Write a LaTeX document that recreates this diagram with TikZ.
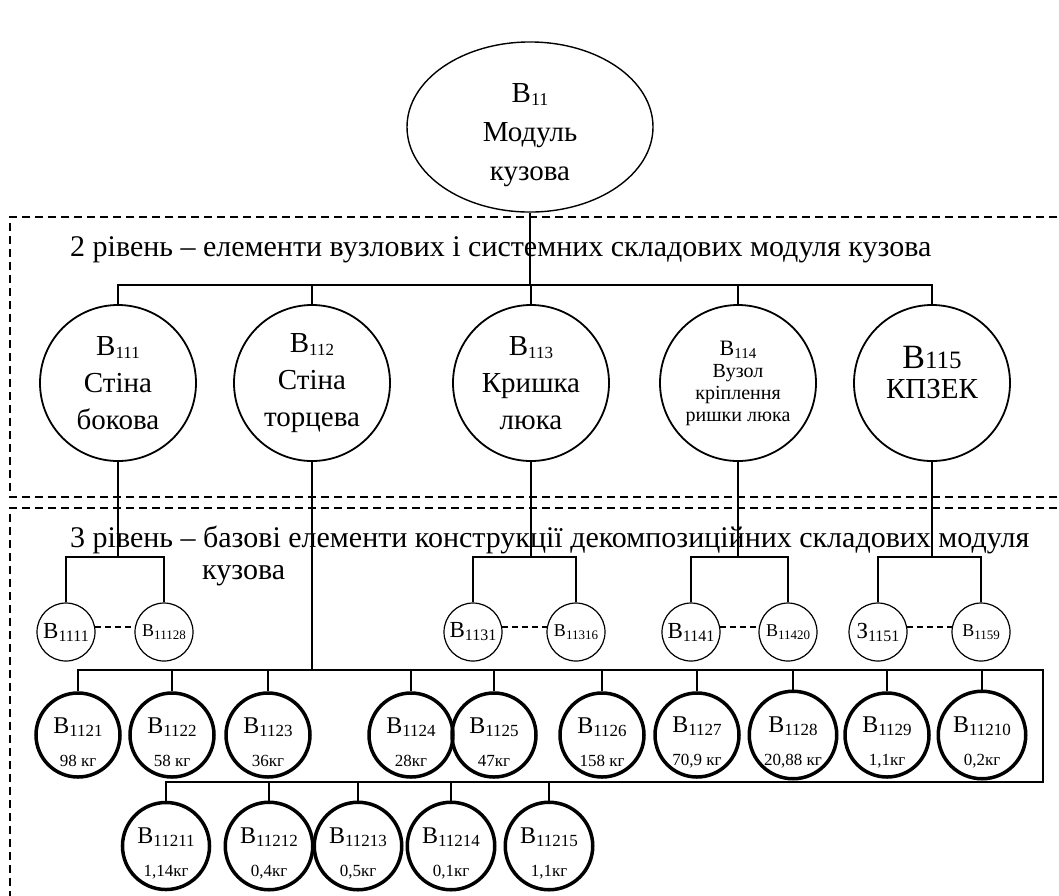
\documentclass[tikz,border=0pt]{standalone}
\usepackage{fontspec}
\setmainfont{Liberation Serif}
\usetikzlibrary{shapes.geometric}
\newcommand{\ind}[2]{\raisebox{-3pt}{\fontsize{#1}{#1}\selectfont #2}}

\begin{document}
\begin{tikzpicture}[x=1pt, y=-1pt,
    lvl/.style={draw, circle, line width=1.8pt, minimum size=156pt, inner sep=0pt, align=center, font=\fontsize{29}{37}\selectfont},
    sm/.style={draw, circle, line width=1.2pt, minimum size=58pt, inner sep=0pt},
    mass/.style={draw, circle, line width=3.5pt, minimum size=84pt, inner sep=0pt, align=center, font=\fontsize{24}{31}\selectfont},
    conn/.style={line width=1.5pt},
    levelbox/.style={line width=1.6pt, dash pattern=on 8pt off 5pt},
    omitted/.style={line width=1.5pt, dash pattern=on 6pt off 4pt},
    title/.style={anchor=base west, inner sep=0pt, font=\fontsize{30}{30}\selectfont}]
    \clip (0,0) rectangle (1059,895);
    \draw[levelbox] (1070,217) -- (10,217) -- (10,497) -- (1070,497);
    \draw[levelbox] (1070,508) -- (10,508) -- (10,910);

    \node[title] (t2) at (70,256) {2 рівень – елементи вузлових і системних складових модуля кузова};
    \node[title] (t3) at (70,547) {3 рівень – базові елементи конструкції декомпозиційних складових модуля};
    \node[title] (t3b) at (202,579) {кузова};

    \node[draw, ellipse, line width=1.4pt, minimum width=246pt, minimum height=170pt, inner sep=0pt, align=center, font=\fontsize{29}{39}\selectfont] (m11) at (530,127) {\rule{0pt}{36pt}В\ind{18}{11}\\Модуль\\кузова};

    \node[lvl] (m111) at (118,383) {В\ind{17}{111}\\Стіна\\бокова};
    \node[lvl] (m112) at (312,383) {В\ind{17}{112}\\Стіна\\торцева};
    \node[lvl] (m113) at (531,383) {В\ind{17}{113}\\Кришка\\люка};
    \node[lvl, font=\fontsize{20}{22}\selectfont] (m114) at (738,383) {{\fontsize{22}{22}\selectfont В}\ind{15}{114}\\Вузол\\кріплення\\ришки люка};
    \node[lvl, font=\fontsize{29}{26}\selectfont, text depth=22pt] (m115) at (932,383) {{\fontsize{34}{34}\selectfont В}{\fontsize{25}{25}\selectfont 115}\\[4pt]КПЗЕК};

    \coordinate (b2) at (530,285);
    \coordinate (b3) at (530,557);
    \coordinate (rt) at (1043,670);
    \coordinate (rb) at (1043,782);

    \draw[conn] (m11.south) -- (b2);
    \draw[conn] (m111.north) |- (b2) -| (m115.north);
    \draw[conn] (m112.north) -- (m112.north |- b2);
    \draw[conn] (m113.north) -- (m113.north |- b2);
    \draw[conn] (m114.north) -- (m114.north |- b2);

    \node[sm] (e1111) at (66,632) {\fontsize{23}{23}\selectfont В\ind{16}{1111}};
    \node[sm] (e11128) at (164,632) {\fontsize{18}{18}\selectfont В\ind{13}{11128}};
    \node[sm] (e1131) at (473,632) {\fontsize{23}{23}\selectfont В\ind{16}{1131}};
    \node[sm] (e11316) at (576,632) {\fontsize{18}{18}\selectfont В\ind{13}{11316}};
    \node[sm] (e1141) at (691,632) {\fontsize{23}{23}\selectfont В\ind{16}{1141}};
    \node[sm] (e11420) at (788,632) {\fontsize{18}{18}\selectfont В\ind{13}{11420}};
    \node[sm] (e1151) at (878,632) {\fontsize{23}{23}\selectfont З\ind{16}{1151}};
    \node[sm] (e1159) at (981,632) {\fontsize{18}{18}\selectfont В\ind{13}{1159}};

    \draw[conn] (m111.south) -- (m111.south |- b3);
    \draw[conn] (e1111.north) |- (e11128.north |- b3) -- (e11128.north);
    \draw[omitted] (e1111.10) -- (e11128.170);
    \draw[conn] (m113.south) -- (m113.south |- b3);
    \draw[conn] (e1131.north) |- (e11316.north |- b3) -- (e11316.north);
    \draw[omitted] (e1131.10) -- (e11316.170);
    \draw[conn] (m114.south) -- (m114.south |- b3);
    \draw[conn] (e1141.north) |- (e11420.north |- b3) -- (e11420.north);
    \draw[omitted] (e1141.10) -- (e11420.170);
    \draw[conn] (m115.south) -- (m115.south |- b3);
    \draw[conn] (e1151.north) |- (e1159.north |- b3) -- (e1159.north);
    \draw[omitted] (e1151.10) -- (e1159.170);

    \node[mass] (d1121) at (78,735) {\rule{0pt}{30pt}В\ind{17}{1121}\\[2pt]{\fontsize{17}{17}\selectfont 98 кг}};
    \node[mass] (d1122) at (172,735) {\rule{0pt}{30pt}В\ind{17}{1122}\\[2pt]{\fontsize{17}{17}\selectfont 58 кг}};
    \node[mass] (d1123) at (268,735) {\rule{0pt}{30pt}В\ind{17}{1123}\\[2pt]{\fontsize{17}{17}\selectfont 36кг}};
    \node[mass] (d1124) at (411,735) {\rule{0pt}{30pt}В\ind{17}{1124}\\[2pt]{\fontsize{17}{17}\selectfont 28кг}};
    \node[mass] (d1125) at (494,735) {\rule{0pt}{30pt}В\ind{17}{1125}\\[2pt]{\fontsize{17}{17}\selectfont 47кг}};
    \node[mass] (d1126) at (602,735) {\rule{0pt}{30pt}В\ind{17}{1126}\\[2pt]{\fontsize{17}{17}\selectfont 158 кг}};
    \node[mass] (d1127) at (697,735) {\rule{0pt}{30pt}В\ind{17}{1127}\\[2pt]{\fontsize{17}{17}\selectfont 70,9 кг}};
    \node[mass] (d1128) at (793,735) {\rule{0pt}{30pt}В\ind{17}{1128}\\[2pt]{\fontsize{17}{17}\selectfont 20,88 кг}};
    \node[mass] (d1129) at (887,735) {\rule{0pt}{30pt}В\ind{17}{1129}\\[2pt]{\fontsize{17}{17}\selectfont 1,1кг}};
    \node[mass] (d11210) at (982,735) {\rule{0pt}{30pt}В\ind{17}{11210}\\[2pt]{\fontsize{17}{17}\selectfont 0,2кг}};

    \node[mass] (d11211) at (166,846) {\rule{0pt}{30pt}В\ind{17}{11211}\\[2pt]{\fontsize{17}{17}\selectfont 1,14кг}};
    \node[mass] (d11212) at (269,846) {\rule{0pt}{30pt}В\ind{17}{11212}\\[2pt]{\fontsize{17}{17}\selectfont 0,4кг}};
    \node[mass] (d11213) at (358,846) {\rule{0pt}{30pt}В\ind{17}{11213}\\[2pt]{\fontsize{17}{17}\selectfont 0,5кг}};
    \node[mass] (d11214) at (451,846) {\rule{0pt}{30pt}В\ind{17}{11214}\\[2pt]{\fontsize{17}{17}\selectfont 0,1кг}};
    \node[mass] (d11215) at (549,846) {\rule{0pt}{30pt}В\ind{17}{11215}\\[2pt]{\fontsize{17}{17}\selectfont 1,1кг}};

    \draw[conn] (m112.south) -- (m112.south |- rt);
    \draw[conn] (d1121.north) |- (rt) -- (rb) -| (d11211.north);
    \draw[conn] (d1122.north) -- (d1122.north |- rt);
    \draw[conn] (d1123.north) -- (d1123.north |- rt);
    \draw[conn] (d1124.north) -- (d1124.north |- rt);
    \draw[conn] (d1125.north) -- (d1125.north |- rt);
    \draw[conn] (d1126.north) -- (d1126.north |- rt);
    \draw[conn] (d1127.north) -- (d1127.north |- rt);
    \draw[conn] (d1128.north) -- (d1128.north |- rt);
    \draw[conn] (d1129.north) -- (d1129.north |- rt);
    \draw[conn] (d11210.north) -- (d11210.north |- rt);
    \draw[conn] (d11212.north) -- (d11212.north |- rb);
    \draw[conn] (d11213.north) -- (d11213.north |- rb);
    \draw[conn] (d11214.north) -- (d11214.north |- rb);
    \draw[conn] (d11215.north) -- (d11215.north |- rb);
\end{tikzpicture}
\end{document}
